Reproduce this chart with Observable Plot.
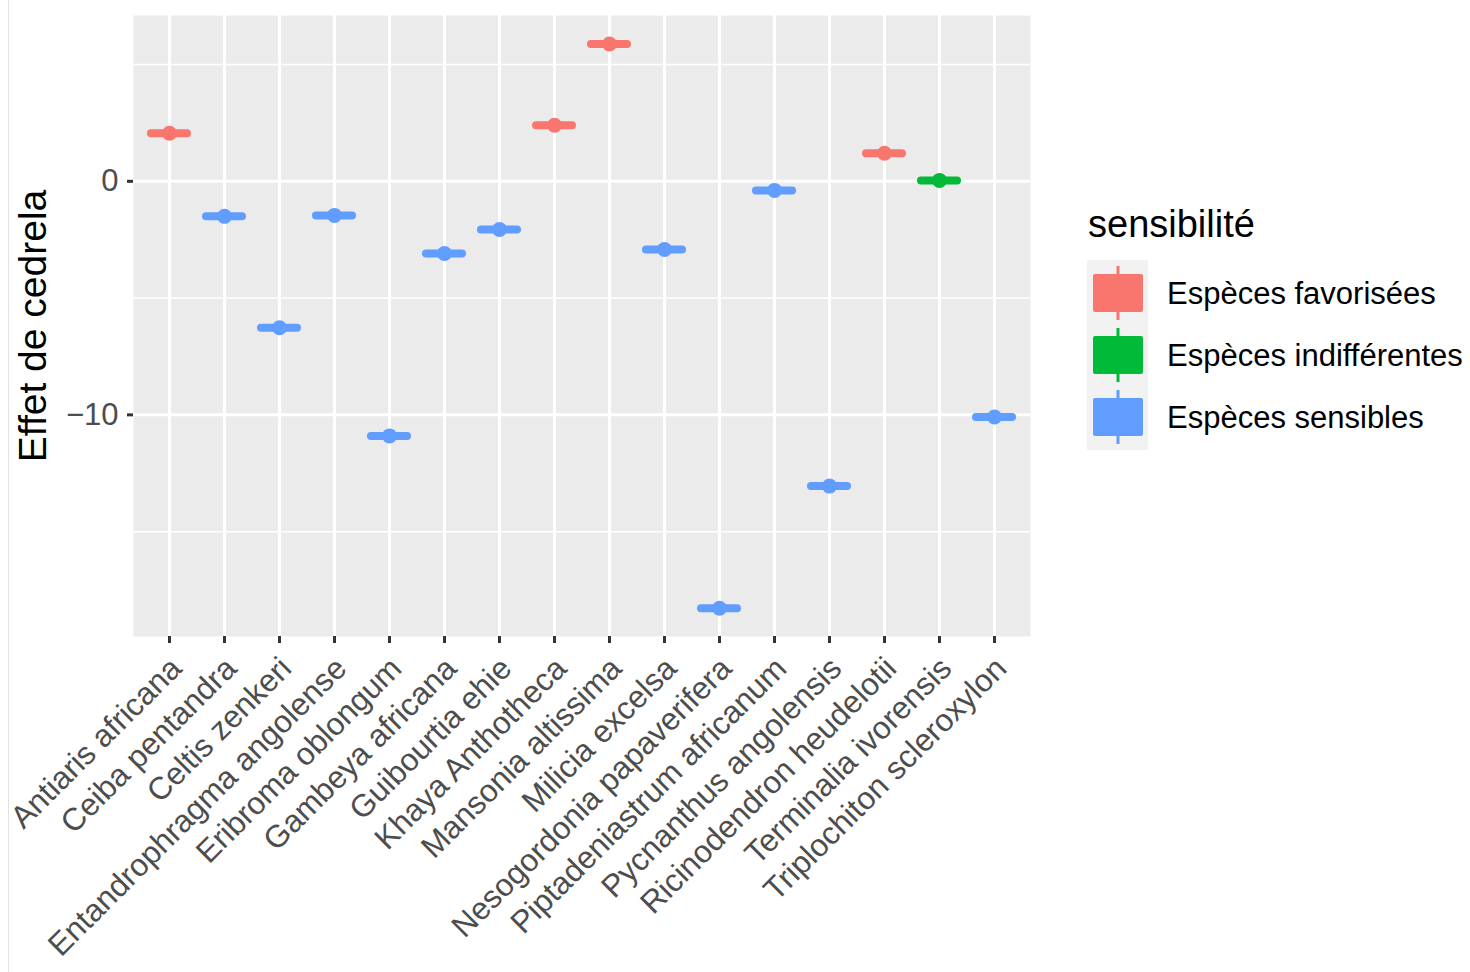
<!DOCTYPE html>
<html>
<head>
<meta charset="utf-8">
<script src="https://cdn.jsdelivr.net/npm/d3@7"></script>
<script src="https://cdn.jsdelivr.net/npm/@observablehq/plot@0.6"></script>
<style>
  html, body { margin: 0; padding: 0; background: #fff; }
  #wrap { position: relative; width: 1470px; height: 972px; overflow: hidden; font-family: "Liberation Sans", Arial, sans-serif; }
  #border { position: absolute; left: 8px; top: 0; width: 1px; height: 972px; background: #e3e3e3; }
  #chart { position: absolute; left: 0; top: 0; }
  #legend { position: absolute; left: 0; top: 0; }
</style>
</head>
<body>
<div id="wrap">
  <div id="border"></div>
  <div id="chart"></div>
  <svg id="legend" width="1470" height="972"></svg>
</div>
<script>
const species = [
  "Antiaris africana", "Ceiba pentandra", "Celtis zenkeri", "Entandrophragma angolense",
  "Eribroma oblongum", "Gambeya africana", "Guibourtia ehie", "Khaya Anthotheca",
  "Mansonia altissima", "Milicia excelsa", "Nesogordonia papaverifera", "Piptadeniastrum africanum",
  "Pycnanthus angolensis", "Ricinodendron heudelotii", "Terminalia ivorensis", "Triplochiton scleroxylon"
];
const effet = [2.06, -1.50, -6.27, -1.46, -10.9, -3.09, -2.06, 2.40, 5.88, -2.92, -18.28, -0.39, -13.05, 1.20, 0.04, -10.09];
const sensibilite = [
  "Espèces favorisées", "Espèces sensibles", "Espèces sensibles", "Espèces sensibles",
  "Espèces sensibles", "Espèces sensibles", "Espèces sensibles", "Espèces favorisées",
  "Espèces favorisées", "Espèces sensibles", "Espèces sensibles", "Espèces sensibles",
  "Espèces sensibles", "Espèces favorisées", "Espèces indifférentes", "Espèces sensibles"
];
const groupes = ["Espèces favorisées", "Espèces indifférentes", "Espèces sensibles"];
const couleurs = ["#F8766D", "#00BA38", "#619CFF"];
const yMajor = [-10, 0];
const yMinor = [-15, -5, 5];
const yTickLabels = ["−10", "0"];
const yDomain = [-19.49, 7.1];

const data = species.map((s, i) => ({espece: s, effet: effet[i], sens: sensibilite[i]}));
const font = "Liberation Sans, Arial, sans-serif";

const chart = Plot.plot({
  width: 1470,
  height: 972,
  marginLeft: 133,
  marginRight: 440,
  marginTop: 15,
  marginBottom: 336,
  style: {fontFamily: font, background: "transparent", overflow: "visible"},
  x: {type: "band", domain: species, paddingInner: 0.2, paddingOuter: 0.2, axis: null},
  y: {domain: yDomain, axis: null},
  color: {domain: groupes, range: couleurs},
  marks: [
    Plot.frame({fill: "#EBEBEB", stroke: null}),
    Plot.gridY(yMinor, {stroke: "white", strokeOpacity: 1, strokeWidth: 1.5}),
    Plot.gridY(yMajor, {stroke: "white", strokeOpacity: 1, strokeWidth: 3}),
    Plot.gridX(species, {stroke: "white", strokeOpacity: 1, strokeWidth: 3}),
    Plot.axisY(yMajor, {tickSize: 6, tickPadding: 9, fontSize: 31, stroke: "#333", strokeWidth: 3, fill: "#4D4D4D",
      tickFormat: d => yTickLabels[yMajor.indexOf(d)], label: null}),
    Plot.axisX({tickSize: 7, stroke: "#333", strokeWidth: 3, tickFormat: () => "", label: null}),
    Plot.text(species, {x: d => d, frameAnchor: "bottom", rotate: -45, textAnchor: "end", lineAnchor: "top",
      dy: 18, dx: -2, fontSize: 31.5, fill: "#4D4D4D"}),
    Plot.text(["Effet de cedrela"], {frameAnchor: "left", rotate: -90, dx: -100, textAnchor: "middle",
      lineAnchor: "middle", fontSize: 39, fill: "black"}),
    Plot.tickY(data, {x: "espece", y: "effet", stroke: "sens", strokeWidth: 8, strokeLinecap: "round",
      insetLeft: 4, insetRight: 4}),
    Plot.dot(data, {x: "espece", y: "effet", fill: "sens", r: 7.5})
  ]
});
document.getElementById("chart").appendChild(chart);

// legend
const lg = d3.select("#legend");
lg.append("text").attr("x", 1088).attr("y", 237).attr("font-family", font).attr("font-size", 38)
  .attr("fill", "black").text("sensibilité");
lg.append("rect").attr("x", 1087).attr("y", 260).attr("width", 61).attr("height", 190).attr("fill", "#F2F2F2");
groupes.forEach((g, i) => {
  const cy = 293 + i * 62;
  lg.append("line").attr("x1", 1118).attr("x2", 1118).attr("y1", cy - 27).attr("y2", cy + 27)
    .attr("stroke", couleurs[i]).attr("stroke-width", 3);
  lg.append("rect").attr("x", 1093).attr("y", cy - 19).attr("width", 50).attr("height", 38).attr("rx", 2)
    .attr("fill", couleurs[i]);
  lg.append("text").attr("x", 1167).attr("y", cy).attr("dy", "0.36em").attr("font-family", font)
    .attr("font-size", 31).attr("fill", "black").text(g);
});
</script>
</body>
</html>
